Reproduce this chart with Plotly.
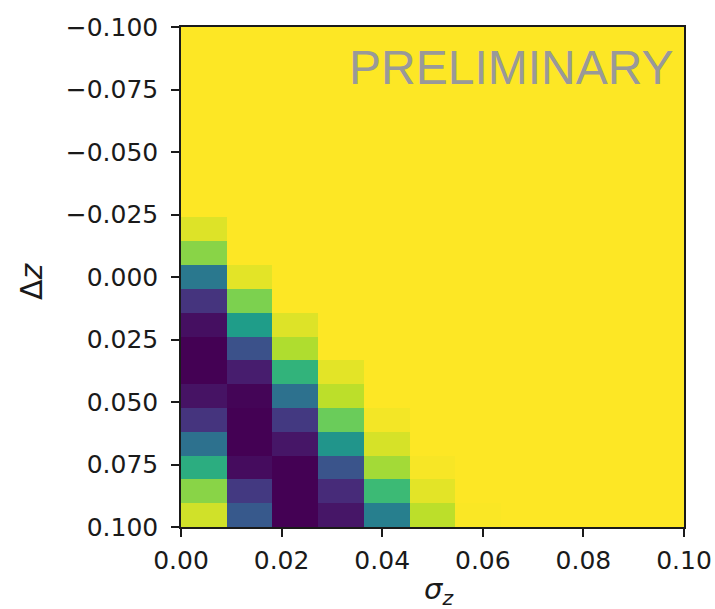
import plotly.graph_objects as go

# ---- data ----
n_cols = 11
n_rows = 21
sigma_z_centers = [0.1 / n_cols * (i + 0.5) for i in range(n_cols)]
delta_z_centers = [-0.1 + 0.2 / n_rows * (j + 0.5) for j in range(n_rows)]

# columns: sigma_z bins (left -> right); rows: delta_z bins (top = -0.1 -> bottom = 0.1)
Y = 1.0
z_values = [
    [Y, Y, Y, Y, Y, Y, Y, Y, Y, Y, Y],
    [Y, Y, Y, Y, Y, Y, Y, Y, Y, Y, Y],
    [Y, Y, Y, Y, Y, Y, Y, Y, Y, Y, Y],
    [Y, Y, Y, Y, Y, Y, Y, Y, Y, Y, Y],
    [Y, Y, Y, Y, Y, Y, Y, Y, Y, Y, Y],
    [Y, Y, Y, Y, Y, Y, Y, Y, Y, Y, Y],
    [Y, Y, Y, Y, Y, Y, Y, Y, Y, Y, Y],
    [Y, Y, Y, Y, Y, Y, Y, Y, Y, Y, Y],
    [0.95, Y, Y, Y, Y, Y, Y, Y, Y, Y, Y],
    [0.82, Y, Y, Y, Y, Y, Y, Y, Y, Y, Y],
    [0.40, 0.96, Y, Y, Y, Y, Y, Y, Y, Y, Y],
    [0.15, 0.80, Y, Y, Y, Y, Y, Y, Y, Y, Y],
    [0.04, 0.55, 0.95, Y, Y, Y, Y, Y, Y, Y, Y],
    [0.00, 0.25, 0.88, Y, Y, Y, Y, Y, Y, Y, Y],
    [0.00, 0.08, 0.65, 0.96, Y, Y, Y, Y, Y, Y, Y],
    [0.05, 0.01, 0.37, 0.90, Y, Y, Y, Y, Y, Y, Y],
    [0.15, 0.00, 0.17, 0.77, 0.985, Y, Y, Y, Y, Y, Y],
    [0.37, 0.00, 0.06, 0.52, 0.94, Y, Y, Y, Y, Y, Y],
    [0.62, 0.03, 0.00, 0.26, 0.86, 0.99, Y, Y, Y, Y, Y],
    [0.82, 0.17, 0.00, 0.12, 0.68, 0.96, Y, Y, Y, Y, Y],
    [0.93, 0.28, 0.00, 0.06, 0.43, 0.90, 0.995, Y, Y, Y, Y],
]

x_tick_vals = [0.00, 0.02, 0.04, 0.06, 0.08, 0.10]
x_tick_text = ["0.00", "0.02", "0.04", "0.06", "0.08", "0.10"]
y_tick_vals = [-0.1, -0.075, -0.05, -0.025, 0.0, 0.025, 0.05, 0.075, 0.1]
y_tick_text = ["\u22120.100", "\u22120.075", "\u22120.050", "\u22120.025",
               "0.000", "0.025", "0.050", "0.075", "0.100"]

# ---- figure ----
fig = go.Figure(
    go.Heatmap(
        x=sigma_z_centers,
        y=delta_z_centers,
        z=z_values,
        colorscale="Viridis",
        zmin=0,
        zmax=1,
        showscale=False,
    )
)

tick_font = dict(family="DejaVu Sans", size=25, color="#1a1a1a")
axis_common = dict(
    ticks="outside",
    ticklen=8,
    tickwidth=1.5,
    tickcolor="#1a1a1a",
    tickfont=tick_font,
    showline=True,
    linecolor="#1a1a1a",
    linewidth=1.5,
    mirror=True,
    showgrid=False,
    zeroline=False,
    automargin=False,
)

fig.update_layout(
    width=715,
    height=609,
    margin=dict(l=181, r=31, t=27, b=82),
    paper_bgcolor="white",
    plot_bgcolor="white",
    showlegend=False,
)
fig.update_xaxes(range=[0, 0.1], tickvals=x_tick_vals, ticktext=x_tick_text,
                 ticklabelstandoff=2, **axis_common)
fig.update_yaxes(range=[0.1, -0.1], tickvals=y_tick_vals, ticktext=y_tick_text,
                 ticklabelstandoff=8, **axis_common)

fig.add_annotation(
    text="\u0394<i>z</i>", xref="paper", yref="paper", x=0, y=(527 - 281) / 500,
    xshift=-150, xanchor="center", yanchor="middle", textangle=-90,
    showarrow=False, font=dict(family="DejaVu Sans", size=30, color="#1a1a1a"),
)
fig.add_annotation(
    text="<i>\u03c3</i><sub><i>z</i></sub>", xref="paper", yref="paper", x=0.5, y=0,
    xshift=6, yshift=-64, xanchor="center", yanchor="middle",
    showarrow=False, font=dict(family="DejaVu Sans", size=29, color="#1a1a1a"),
)
fig.add_annotation(
    text="PRELIMINARY", xref="paper", yref="paper", x=1, y=(527 - 68) / 500,
    xshift=-8, xanchor="right", yanchor="middle",
    showarrow=False, font=dict(family="Liberation Sans", size=48, color="#999999"),
)

fig.write_html("out.html")
